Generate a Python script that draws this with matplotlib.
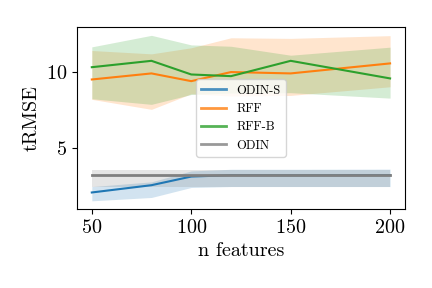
import matplotlib
matplotlib.use("Agg")
import matplotlib.pyplot as plt
import numpy as np

plt.rcParams['font.family'] = 'serif'
plt.rcParams['font.serif'] = ['cmr10', 'DejaVu Serif']
plt.rcParams['axes.formatter.use_mathtext'] = True
plt.rcParams['mathtext.fontset'] = 'cm'

n_features = [50, 80, 100, 120, 150, 200]

odin_s_mean = [2.04, 2.52, 3.09, 3.18, 3.17, 3.18]
odin_s_low = [1.49, 1.71, 2.37, 2.43, 2.43, 2.43]
odin_s_high = [2.43, 2.74, 3.46, 3.57, 3.57, 3.58]

rff_mean = [9.49, 9.89, 9.38, 9.98, 9.89, 10.55]
rff_low = [8.18, 7.52, 8.55, 8.40, 8.44, 9.01]
rff_high = [11.40, 11.18, 11.58, 12.24, 12.20, 12.38]

rffb_mean = [10.30, 10.72, 9.82, 9.71, 10.72, 9.56]
rffb_low = [8.22, 7.85, 8.50, 8.60, 8.62, 8.26]
rffb_high = [11.64, 12.40, 11.77, 11.68, 11.09, 11.62]

odin_mean = 3.20
odin_low = 2.43
odin_high = 3.53

fig = plt.figure(figsize=(4.32, 2.88), dpi=100)
ax = fig.add_axes([0.178, 0.274, 0.7595, 0.632])

c_blue = '#1f77b4'
c_orange = '#ff7f0e'
c_green = '#2ca02c'
c_gray = '#808080'

x = np.array(n_features)
ax.plot(x, odin_s_mean, color=c_blue, lw=1.5, label='ODIN-S')
ax.fill_between(x, odin_s_low, odin_s_high, color=c_blue, alpha=0.2, lw=0)
ax.plot(x, rff_mean, color=c_orange, lw=1.5, label='RFF')
ax.fill_between(x, rff_low, rff_high, color=c_orange, alpha=0.2, lw=0)
ax.plot(x, rffb_mean, color=c_green, lw=1.5, label='RFF-B')
ax.fill_between(x, rffb_low, rffb_high, color=c_green, alpha=0.2, lw=0)
ax.plot(x, [odin_mean] * len(x), color=c_gray, lw=2, label='ODIN')
ax.fill_between(x, [odin_low] * len(x), [odin_high] * len(x), color=c_gray, alpha=0.2, lw=0)

ax.set_xticks([50, 100, 150, 200])
ax.set_yticks([5, 10])
ax.tick_params(labelsize=14.5)
ax.set_xlabel('n features', fontsize=14.5)
ax.set_ylabel('tRMSE', fontsize=14.5)

leg = ax.legend(loc='center', fontsize=9, framealpha=0.8)
for h in leg.get_lines():
    h.set_linewidth(2)
    h.set_alpha(0.8)

fig.savefig('out.png', dpi=100)
